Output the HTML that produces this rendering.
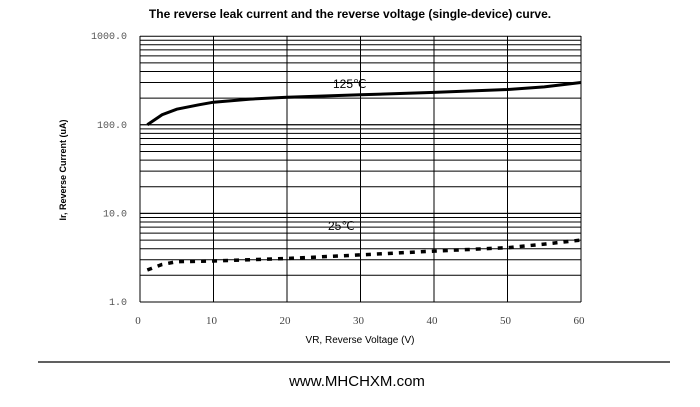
<!DOCTYPE html>
<html><head><meta charset="utf-8"><style>
html,body{margin:0;padding:0;background:#fff;width:700px;height:407px;overflow:hidden}
</style></head><body>
<svg id="s" width="700" height="407" xmlns="http://www.w3.org/2000/svg" font-family="Liberation Sans, sans-serif">
<text x="350" y="18" text-anchor="middle" font-size="12" font-weight="bold">The reverse leak current and the reverse voltage (single-device) curve.</text>
<g id="g"></g>
<text x="66" y="170" transform="rotate(-90 66 170)" text-anchor="middle" font-size="9" font-weight="bold">Ir, Reverse Current (uA)</text>
<text x="360" y="343" text-anchor="middle" font-size="10">VR, Reverse Voltage (V)</text>
<text x="333" y="88" font-size="12">125℃</text>
<text x="328" y="230" font-size="12">25℃</text>
<line x1="38" y1="362" x2="670" y2="362" stroke="#000" stroke-width="1.3"/>
<text x="357" y="386" text-anchor="middle" font-size="15">www.MHCHXM.com</text>
</svg>
<script>
var g=document.getElementById('g'),h='';
var X0=140,XS=7.35,Y1=302,D=88.6;
function X(v){return X0+v*XS}function Y(v){return Y1-Math.log10(v)*D}
for(var d=0;d<3;d++)for(var k=1;k<=10;k++){var y=Y(k*Math.pow(10,d));h+='<line x1="140" x2="581" y1="'+y.toFixed(1)+'" y2="'+y.toFixed(1)+'" stroke="#000" stroke-width="1"/>';}
for(var i=0;i<=6;i++){var x=X(i*10);h+='<line x1="'+x+'" x2="'+x+'" y1="36" y2="302" stroke="#000" stroke-width="1"/>';
h+='<text x="'+(x-2)+'" y="324" text-anchor="middle" font-size="11" font-family="Liberation Serif, serif" fill="#444">'+(i*10)+'</text>';}
var yl=[['1000.0',1000],['100.0',100],['10.0',10],['1.0',1]];
yl.forEach(function(a){h+='<text x="127" y="'+(Y(a[1])+3)+'" text-anchor="end" font-size="10" font-family="Liberation Mono, monospace" fill="#555">'+a[0]+'</text>';});
var p1=[[1,100],[3,130],[5,150],[8,168],[10,180],[15,195],[20,205],[30,218],[40,232],[50,250],[55,268],[60,300]];
var p2=[[1,2.3],[3,2.65],[5,2.85],[10,2.9],[20,3.1],[30,3.4],[40,3.75],[50,4.1],[55,4.5],[60,5.0]];
function path(p){return p.map(function(q,i){return (i?'L':'M')+X(q[0]).toFixed(1)+' '+Y(q[1]).toFixed(1)}).join(' ')}
h+='<path d="'+path(p1)+'" fill="none" stroke="#000" stroke-width="3"/>';
h+='<path d="'+path(p2)+'" fill="none" stroke="#000" stroke-width="3.5" stroke-dasharray="5,6"/>';
g.innerHTML=h;
</script>
</body></html>
